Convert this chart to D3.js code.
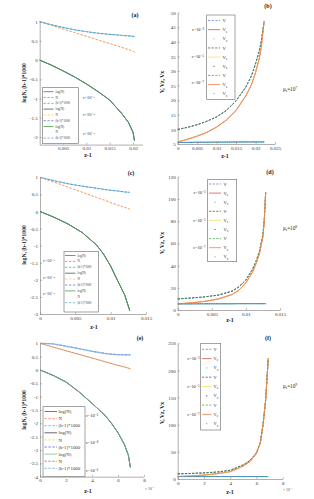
<!DOCTYPE html>
<html><head><meta charset="utf-8">
<script src="https://cdn.jsdelivr.net/npm/d3@7"></script>
<style>body{margin:0;background:#fff}svg{display:block}text{font-family:"Liberation Serif","DejaVu Serif",serif}</style>
</head><body>
<svg id="c" width="314" height="499"></svg>
<script>
// ---------------- data ----------------
const epsLabels  = ["ε=10⁻³","ε=10⁻⁵","ε=10⁻⁷"];
const epsLabelsE = ["ε=10⁻³","ε=10⁻⁴","ε=10⁻⁶"];
const leftNames  = ["log(N)","N","(b-1)*1000"];
const rightNames = [["V",""],["V","z"],["V","x"]];
const muExps     = ["7","8","9"];
const panelTags  = ["(a)","(b)","(c)","(d)","(e)","(f)"];

// panel (a)
const zA    = [0, 0.0025, 0.005, 0.0075, 0.01, 0.0125, 0.015, 0.0175, 0.019, 0.02, 0.0203];
const logNA = [0, -0.13, -0.28, -0.44, -0.62, -0.82, -1.04, -1.38, -1.62, -1.88, -2.1];
const NA    = [1, 0.905, 0.81, 0.715, 0.62, 0.525, 0.43, 0.335, 0.275, 0.235, 0.2];
const bA    = [1, 0.92, 0.85, 0.79, 0.74, 0.70, 0.67, 0.645, 0.63, 0.62, 0.615];
const xTicksA = [0.005, 0.01, 0.015, 0.02];
const xLabsA  = ["0.005","0.01","0.015","0.02"];
const yTicksA = [-2, -1.5, -1, -0.5, 0, 0.5, 1];
const yLabsA  = ["-2","-1.5","-1","-0.5","0","0.5","1"];

// panel (b)
const zB  = [0, 0.0025, 0.005, 0.0075, 0.01, 0.0125, 0.015, 0.0175, 0.019, 0.02, 0.021, 0.0215, 0.0222];
const VB  = [10, 10.7, 11.6, 12.8, 14.3, 16.5, 19.8, 24.5, 28.5, 32.5, 37, 40.5, 47];
const VzB = [5.7, 6.6, 7.7, 9, 10.8, 13.2, 16.5, 21.5, 25.5, 29.5, 34.5, 38.5, 47];
const VxB = [5.5, 5.55, 5.6, 5.6, 5.65, 5.65, 5.7, 5.7, 5.7, 5.7, 5.7, 5.7, 5.7];
const xTicksB = [0, 0.005, 0.01, 0.015, 0.02, 0.025];
const xLabsB  = ["0","0.005","0.01","0.015","0.02","0.025"];
const yTicksB = [5, 10, 15, 20, 25, 30, 35, 40, 45, 50];
const yLabsB  = ["5","10","15","20","25","30","35","40","45","50"];

// panel (c)
const zC    = [0, 0.002, 0.004, 0.006, 0.008, 0.009, 0.01, 0.011, 0.012, 0.0127];
const logNC = [0, -0.17, -0.37, -0.62, -0.98, -1.25, -1.6, -2.03, -2.45, -2.9];
const NC    = [1, 0.86, 0.71, 0.56, 0.41, 0.34, 0.26, 0.19, 0.12, 0.07];
const bC    = [1, 0.9, 0.81, 0.74, 0.68, 0.65, 0.62, 0.6, 0.57, 0.56];
const xTicksC = [0, 0.005, 0.01, 0.015];
const xLabsC  = ["0","0.005","0.01","0.015"];
const yTicksC = [-3, -2.5, -2, -1.5, -1, -0.5, 0, 0.5, 1];
const yLabsC  = ["-3","-2.5","-2","-1.5","-1","-0.5","0","0.5","1"];

// panel (d)
const zD  = [0, 0.002, 0.004, 0.006, 0.008, 0.009, 0.01, 0.011, 0.0115, 0.012, 0.0125, 0.0127, 0.0129];
const VD  = [10, 10.8, 11.8, 13.5, 17, 21, 27, 37, 44, 53, 68, 82, 106];
const VzD = [5.5, 6.5, 7.8, 10, 14, 18, 24.5, 34.5, 42, 51, 66, 81, 106];
const VxD = [5.5, 5.5, 5.6, 5.6, 5.6, 5.7, 5.7, 5.7, 5.7, 5.7, 5.7, 5.7, 5.7];
const xTicksD = [0, 0.005, 0.01, 0.015];
const xLabsD  = ["0","0.005","0.01","0.015"];
const yTicksD = [0, 20, 40, 60, 80, 100, 120];
const yLabsD  = ["0","20","40","60","80","100","120"];

// panel (e)  (z-1 in units of 1e-3)
const zE    = [0, 1, 2, 3, 4, 5, 5.5, 6, 6.5, 6.8, 6.95];
const logNE = [0, -0.2, -0.45, -0.82, -1.25, -1.7, -2.0, -2.35, -2.8, -3.2, -3.65];
const NE    = [1, 0.86, 0.72, 0.585, 0.45, 0.31, 0.24, 0.17, 0.11, 0.07, 0.04];
const bE    = [1, 0.98, 0.89, 0.8, 0.7, 0.62, 0.59, 0.575, 0.57, 0.57, 0.57];
const xTicksE = [0, 2, 4, 6, 8];
const xLabsE  = ["0","2","4","6","8"];
const yTicksE = [-4, -3.5, -3, -2.5, -2, -1.5, -1, -0.5, 0, 0.5, 1];
const yLabsE  = ["-4","-3.5","-3","-2.5","-2","-1.5","-1","-0.5","0","0.5","1"];

// panel (f)  (z-1 in units of 1e-3)
const zF  = [0, 1, 2, 3, 4, 5, 5.5, 6, 6.3, 6.5, 6.7, 6.9];
const VF  = [9.5, 10.2, 11.2, 12.8, 16, 26, 34, 48, 68, 100, 145, 222];
const VzF = [4.5, 5.5, 7.2, 9.8, 13.5, 24, 32, 47, 67, 100, 145, 222];
const VxF = [4.5, 4.5, 4.5, 4.5, 4.5, 4.5, 4.5, 4.5, 4.5, 4.5, 4.5, 4.5];
const xTicksF = [0, 2, 4, 6, 8];
const xLabsF  = ["0","2","4","6","8"];
const yTicksF = [0, 50, 100, 150, 200, 250];
const yLabsF  = ["0","50","100","150","200","250"];

// ---------------- styles ----------------
const LS = [ // left panels: logN, N, b for three eps
  {c:"#5a5ad8", w:0.8, d:null}, {c:"#f07050", w:0.8, d:"2.4,1.5"}, {c:"#3fd0d8", w:1.0, d:"2.4,1.5"},
  {c:"#555555", w:0.8, d:null}, {c:"#f0d040", w:0.3, d:"2.4,1.5"}, {c:"#6464b8", w:0.5, d:"2.4,1.5"},
  {c:"#4aa84a", w:0.8, d:null}, {c:"#e4e4d4", w:0.4, d:"0.6,1.9"}, {c:"#58a0dc", w:0.6, d:"2.4,1.5", off:1.9}
];
const LSE = [
  {c:"#3c50c8", w:0.8, d:null}, {c:"#f07050", w:0.7, d:"2.4,1.5"}, {c:"#70e0e8", w:1.3, d:"2.4,1.5"},
  {c:"#444444", w:0.8, d:null}, {c:"#f0d020", w:0.3, d:"2.4,1.5"}, {c:"#a8a8e8", w:1.3, d:"2.4,1.5"},
  {c:"#7cc47c", w:0.8, d:null}, {c:"#b05828", w:0.6, d:"2.4,1.5", off:1.9}, {c:"#4a9ae0", w:0.7, d:"2.4,1.5", off:1.9}
];
const RS = [ // right panels: V, Vz, Vx for three eps
  {c:"#5a6ae0", w:0.7, d:"2.2,1.4"}, {c:"#e05050", w:0.8, d:null}, {c:"#40c4d4", w:0.9, d:"0.4,1.4", dot:true},
  {c:"#444444", w:0.7, d:"2.2,1.4"}, {c:"#f2e070", w:0.8, d:null}, {c:"#333333", w:0.8, d:"0.4,1.4", dot:true, off:0.9},
  {c:"#3a9a3a", w:0.7, d:"2.2,1.4"}, {c:"#f08050", w:0.8, d:null}, {c:"#4aa0e0", w:0.9, d:"0.4,1.4", dot:true, off:0.5}
];

const svg = d3.select("#c");

function drawAxes(g, x, y, xt, xl, yt, yl) {
  const ax = g.append("g").attr("transform", `translate(0,${y.range()[0]})`)
    .call(d3.axisBottom(x).tickValues(xt).tickFormat((d,i)=>xl[i]).tickSize(-2).tickSizeOuter(0).tickPadding(2.2));
  const ay = g.append("g").attr("transform", `translate(${x.range()[0]},0)`)
    .call(d3.axisLeft(y).tickValues(yt).tickFormat((d,i)=>yl[i]).tickSize(-2).tickSizeOuter(0).tickPadding(2));
  [ax, ay].forEach(a => {
    a.select(".domain").attr("stroke", "#7a7a7a").attr("stroke-width", 0.6);
    a.selectAll(".tick line").attr("stroke", "#7a7a7a").attr("stroke-width", 0.5);
    a.selectAll(".tick text").attr("font-size", 5).attr("fill", "#333")
      .style("font-family", '"Liberation Serif",serif');
  });
}

function styled(p, s) {
  p.attr("fill", "none").attr("stroke", s.c).attr("stroke-width", s.w);
  if (s.d) p.attr("stroke-dasharray", s.d).attr("stroke-dashoffset", s.off || 0);
  if (s.dot) p.attr("stroke-linecap", "round");
  return p;
}

function text(g, x, y, str, size, opts = {}) {
  const t = g.append("text").attr("x", x).attr("y", y).attr("font-size", size)
    .attr("fill", opts.fill || "#222").attr("text-anchor", opts.anchor || "start");
  if (opts.bold) t.attr("font-weight", "bold");
  if (opts.rot) t.attr("transform", `rotate(-90,${x},${y})`);
  t.text(str);
  return t;
}

function leftPanel(P) {
  const g = svg.append("g");
  const x = d3.scaleLinear().domain(P.xd).range(P.xr);
  const y = d3.scaleLinear().domain(P.yd).range(P.yr);
  drawAxes(g, x, y, P.xt, P.xl, P.yt, P.yl);
  const series = [P.logN, P.N, P.b];
  const line = d3.line().x((d, i) => x(P.z[i])).y(d => y(d));
  for (let k = 0; k < 3; k++)
    for (let j = 0; j < 3; j++)
      styled(g.append("path").attr("d", line(series[j])), P.S[k * 3 + j]);
  // legend
  const L = P.leg;
  g.append("rect").attr("x", L.x0).attr("y", L.y0).attr("width", L.x1 - L.x0).attr("height", L.y1 - L.y0)
    .attr("fill", "#fff").attr("stroke", "#666").attr("stroke-width", 0.6);
  for (let i = 0; i < 9; i++) {
    const yy = L.r0 + i * L.dr;
    styled(g.append("line").attr("x1", L.lx0).attr("x2", L.lx1).attr("y1", yy).attr("y2", yy),
      Object.assign({}, P.S[i], {off: 0, w: Math.max(P.S[i].w, 0.7)}));
    text(g, L.tx, yy + L.fs * 0.35, leftNames[i % 3], L.fs, {fill: "#333"});
  }
  P.epsY.forEach((yy, i) => text(g, P.epsX, yy, P.eps[i], P.epsFs, {anchor: P.epsAnchor}));
  text(g, P.tag[0], P.tag[1], P.tagText, 6, {bold: true, anchor: "middle"});
  text(g, P.yLab[0], P.yLab[1], "logN, (b-1)*1000", 5.6, {bold: true, anchor: "middle", rot: true});
  text(g, P.xLab[0], P.xLab[1], "z-1", 6, {bold: true, anchor: "middle"});
  if (P.mult) {
    const t = text(g, P.mult[0], P.mult[1], "× 10", 3.8, {fill: "#444"});
    t.append("tspan").attr("dy", -1.6).attr("font-size", 2.8).text("-3");
  }
}

function rightPanel(P) {
  const g = svg.append("g");
  const x = d3.scaleLinear().domain(P.xd).range(P.xr);
  const y = d3.scaleLinear().domain(P.yd).range(P.yr);
  drawAxes(g, x, y, P.xt, P.xl, P.yt, P.yl);
  const series = [P.V, P.Vz, P.Vx];
  const line = d3.line().x((d, i) => x(P.z[i])).y(d => y(d));
  for (let k = 0; k < 3; k++)
    for (let j = 0; j < 3; j++)
      styled(g.append("path").attr("d", line(series[j])), RS[k * 3 + j]);
  const L = P.leg;
  g.append("rect").attr("x", L.x0).attr("y", L.y0).attr("width", L.x1 - L.x0).attr("height", L.y1 - L.y0)
    .attr("fill", "#fff").attr("stroke", "#666").attr("stroke-width", 0.6);
  for (let i = 0; i < 9; i++) {
    const yy = L.r0 + i * L.dr;
    const s = RS[i];
    if (s.dot) {
      g.append("circle").attr("cx", (L.lx0 + L.lx1) / 2).attr("cy", yy).attr("r", 0.6).attr("fill", s.c);
    } else {
      styled(g.append("line").attr("x1", L.lx0).attr("x2", L.lx1).attr("y1", yy).attr("y2", yy), s);
    }
    const nm = rightNames[i % 3];
    const t = text(g, L.tx, yy + L.fs * 0.35, nm[0], L.fs, {fill: "#333"});
    if (nm[1]) t.append("tspan").attr("dy", L.fs * 0.3).attr("font-size", L.fs * 0.7).text(nm[1]);
  }
  P.epsY.forEach((yy, i) => text(g, P.epsX, yy, epsLabels[i], 4.3, {anchor: "end"}));
  const m = text(g, P.mu[0], P.mu[1], "μ", 5.2);
  m.append("tspan").attr("dy", 1.2).attr("font-size", 3.6).text("s");
  m.append("tspan").attr("dy", -1.2).attr("font-size", 5.2).text("=10");
  m.append("tspan").attr("dy", -2).attr("font-size", 3.6).text(P.muExp);
  text(g, P.tag[0], P.tag[1], P.tagText, 6, {bold: true, anchor: "middle"});
  text(g, P.yLab[0], P.yLab[1], "V, Vz, Vx", 5.6, {bold: true, anchor: "middle", rot: true});
  text(g, P.xLab[0], P.xLab[1], "z-1", 6, {bold: true, anchor: "middle"});
  if (P.mult) {
    const t = text(g, P.mult[0], P.mult[1], "× 10", 3.8, {fill: "#444"});
    t.append("tspan").attr("dy", -1.6).attr("font-size", 2.8).text("-3");
  }
}

// ---------------- panels ----------------
leftPanel({
  z: zA, logN: logNA, N: NA, b: bA, S: LS,
  xd: [0, 0.022], xr: [39.7, 142.4], yd: [-2.2, 1], yr: [144.6, 21.7],
  xt: xTicksA, xl: xLabsA, yt: yTicksA, yl: yLabsA,
  leg: {x0: 42.3, x1: 78.3, y0: 87.7, y1: 143.6, r0: 91.7, dr: 5.8, lx0: 43.5, lx1: 53.5, tx: 55.5, fs: 3.2},
  eps: epsLabels, epsX: 83, epsY: [98.5, 116, 135], epsFs: 4.2, epsAnchor: "start",
  tag: [135, 17], tagText: panelTags[0], yLab: [26, 83], xLab: [88, 157]
});
rightPanel({
  z: zB, V: VB, Vz: VzB, Vx: VxB,
  xd: [0, 0.025], xr: [177.7, 275], yd: [5, 50], yr: [144, 12.7],
  xt: xTicksB, xl: xLabsB, yt: yTicksB, yl: yLabsB,
  leg: {x0: 206.7, x1: 235, y0: 15, y1: 99.3, r0: 20.5, dr: 9.15, lx0: 208, lx1: 220, tx: 222.5, fs: 4.6},
  epsX: 204, epsY: [31, 58, 84], mu: [283, 91], muExp: muExps[0],
  tag: [268, 8], tagText: panelTags[1], yLab: [164, 82], xLab: [225, 158]
});
leftPanel({
  z: zC, logN: logNC, N: NC, b: bC, S: LS,
  xd: [0, 0.015], xr: [40, 146], yd: [-3, 1], yr: [314, 177.3],
  xt: xTicksC, xl: xLabsC, yt: yTicksC, yl: yLabsC,
  leg: {x0: 64, x1: 98.5, y0: 251.5, y1: 312, r0: 255.5, dr: 5.9, lx0: 65, lx1: 75.5, tx: 77.5, fs: 3.1},
  eps: epsLabels, epsX: 43, epsY: [261.5, 278.5, 294.5], epsFs: 4.2, epsAnchor: "start",
  tag: [131, 175], tagText: panelTags[2], yLab: [26, 245], xLab: [94, 329]
});
rightPanel({
  z: zD, V: VD, Vz: VzD, Vx: VxD,
  xd: [0, 0.015], xr: [177.7, 280], yd: [0, 120], yr: [310, 176.7],
  xt: xTicksD, xl: xLabsD, yt: yTicksD, yl: yLabsD,
  leg: {x0: 207.7, x1: 236.7, y0: 179.3, y1: 261.7, r0: 184, dr: 9.1, lx0: 209, lx1: 221, tx: 223.5, fs: 4.6},
  epsX: 205.5, epsY: [193.5, 221.5, 248.5], mu: [283, 230], muExp: muExps[1],
  tag: [270, 174], tagText: panelTags[3], yLab: [164, 243], xLab: [230, 322]
});
leftPanel({
  z: zE, logN: logNE, N: NE, b: bE, S: LSE,
  xd: [0, 8], xr: [40, 144], yd: [-4, 1], yr: [476.7, 343.3],
  xt: xTicksE, xl: xLabsE, yt: yTicksE, yl: yLabsE,
  leg: {x0: 43, x1: 85, y0: 406.7, y1: 476.7, r0: 411.5, dr: 7.1, lx0: 44.5, lx1: 57, tx: 58.5, fs: 4.8},
  eps: epsLabelsE, epsX: 86, epsY: [416.5, 443.5, 471.5], epsFs: 4.3, epsAnchor: "start",
  tag: [140, 340], tagText: panelTags[4], yLab: [26, 410], xLab: [88, 493], mult: [145, 489.5]
});
rightPanel({
  z: zF, V: VF, Vz: VzF, Vx: VxF,
  xd: [0, 8], xr: [177.7, 282.7], yd: [0, 250], yr: [479, 343.3],
  xt: xTicksF, xl: xLabsF, yt: yTicksF, yl: yLabsF,
  leg: {x0: 200.7, x1: 220.7, y0: 343.3, y1: 430, r0: 349.3, dr: 9.3, lx0: 202, lx1: 211.5, tx: 213.5, fs: 4.4},
  epsX: 199.5, epsY: [359.5, 387.5, 415.5], mu: [283, 388], muExp: muExps[2],
  tag: [268, 340], tagText: panelTags[5], yLab: [164, 413], xLab: [230, 494], mult: [283, 490.5]
});
</script>
</body></html>
